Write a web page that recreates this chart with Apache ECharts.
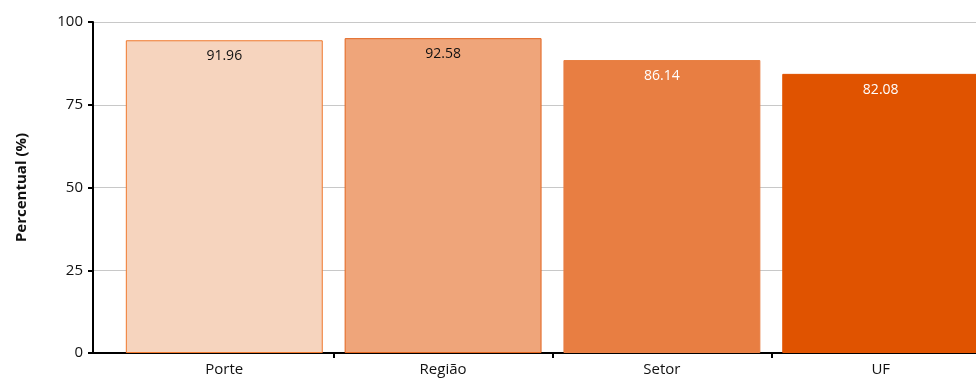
<!DOCTYPE html>
<html><head><meta charset="utf-8">
<script src="https://cdn.jsdelivr.net/npm/echarts@6/dist/echarts.min.js"></script>
<style>html,body{margin:0;padding:0;background:#fff}#c{width:976px;height:382px}</style>
</head><body><div id="c"></div>
<script>
const categories = ['Porte', 'Região', 'Setor', 'UF'];
const values = [91.96, 92.58, 86.14, 82.08];
const yTicks = [0, 25, 50, 75, 100];
const positions = [1, 2, 3, 4];

const fills = ['#F6D4BE', '#EFA57A', '#E87E42', '#E05300'];
const borders = ['#F0782C', '#E2651E', '#E87E42', '#E05300'];
const labelColors = ['#111', '#111', '#fff', '#fff'];
const font = '"Open Sans", "Noto Sans", sans-serif';

const chart = echarts.init(document.getElementById('c'), null, {renderer: 'canvas'});
chart.setOption({
  animation: false,
  grid: {left: 93, top: 22, bottom: 29, right: -36, containLabel: false, outerBoundsMode: 'none'},
  xAxis: {
    type: 'value', min: 0.4, max: 4.6,
    splitLine: {show: false},
    axisLine: {show: true, lineStyle: {color: '#000', width: 2}},
    axisTick: {show: true, customValues: [1.5, 2.5, 3.5], length: 5, inside: false, lineStyle: {color: '#000', width: 2}},
    axisLabel: {customValues: positions, color: '#111', fontFamily: font, fontSize: 15, margin: 9,
      formatter: v => categories[Math.round(v) - 1] || ''}
  },
  yAxis: [{
    type: 'value', min: yTicks[0], max: yTicks[yTicks.length - 1], interval: 25,
    name: 'Percentual (%)', nameLocation: 'middle', nameGap: 64,
    nameTextStyle: {fontFamily: font, fontSize: 15, fontWeight: 'bold', color: '#111'},
    axisLine: {show: true, lineStyle: {color: '#000', width: 2}},
    axisTick: {show: true, length: 5, lineStyle: {color: '#000', width: 2}},
    axisLabel: {color: '#111', fontFamily: font, fontSize: 15, margin: 10},
    splitLine: {show: true, lineStyle: {color: '#C8C8C8', width: 1}}
  }, {
    type: 'value', min: 0, max: 97.33, show: false, splitLine: {show: false}
  }],
  series: [{
    type: 'bar', yAxisIndex: 1, barWidth: '90%',
    data: values.map((v, i) => ({
      value: [positions[i], v],
      itemStyle: {color: fills[i], borderColor: borders[i], borderWidth: 1},
      label: {show: true, position: 'insideTop', distance: 9, color: labelColors[i],
        fontFamily: font, fontSize: 14, formatter: () => v.toFixed(2)}
    }))
  }]
});
</script></body></html>
